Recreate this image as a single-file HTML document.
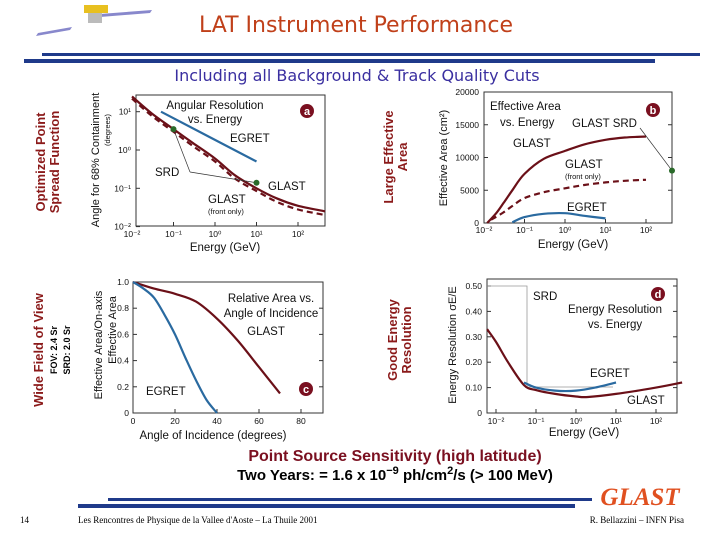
<!DOCTYPE html>
<html><head><meta charset="utf-8"><style>
body{margin:0;background:#fff}
svg{display:block;font-family:"Liberation Sans",sans-serif}
</style></head><body>
<svg id="s" width="720" height="540" viewBox="0 0 720 540" xmlns="http://www.w3.org/2000/svg">
<g>
<polygon points="36,36 70,30 72,27 38,33" fill="#8888cc"/><polygon points="100,14 152,10 150,13 100,17" fill="#8888cc"/>
<rect x="84" y="5" width="24" height="8" fill="#e8c020"/><rect x="88" y="13" width="14" height="10" fill="#bbb"/>
</g>
<text x="356" y="32" text-anchor="middle" font-size="22" fill="#c0401a" font-family="'DejaVu Sans',sans-serif">LAT Instrument Performance</text>
<rect x="42" y="53" width="658" height="3" fill="#1f3a8a"/>
<rect x="24" y="59" width="631" height="4" fill="#1f3a8a"/>
<text x="357" y="81" text-anchor="middle" font-size="16" fill="#3a2fa0" font-family="'DejaVu Sans',sans-serif">Including all Background &amp; Track Quality Cuts</text>

<g font-weight="bold" fill="#8b1a1a" font-size="13">
<text transform="translate(45,162) rotate(-90)" text-anchor="middle">Optimized Point</text>
<text transform="translate(59,162) rotate(-90)" text-anchor="middle">Spread Function</text>
<text transform="translate(393,157) rotate(-90)" text-anchor="middle">Large Effective</text>
<text transform="translate(407,157) rotate(-90)" text-anchor="middle">Area</text>
<text transform="translate(43,350) rotate(-90)" text-anchor="middle">Wide Field of View</text>
<text transform="translate(57,350) rotate(-90)" text-anchor="middle" font-size="9" fill="#000">FOV: 2.4 Sr</text>
<text transform="translate(70,350) rotate(-90)" text-anchor="middle" font-size="9" fill="#000">SRD: 2.0 Sr</text>
<text transform="translate(397,340) rotate(-90)" text-anchor="middle">Good Energy</text>
<text transform="translate(411,340) rotate(-90)" text-anchor="middle">Resolution</text>
</g>

<g id="charts"></g>

<text x="395" y="461" text-anchor="middle" font-size="16" font-weight="bold" fill="#7a1020">Point Source Sensitivity (high latitude)</text>
<text x="395" y="480" text-anchor="middle" font-size="15" font-weight="bold" fill="#000">Two Years: = 1.6 x 10<tspan dy="-6" font-size="11">−9</tspan><tspan dy="6"> ph/cm</tspan><tspan dy="-6" font-size="11">2</tspan><tspan dy="6">/s (&gt; 100 MeV)</tspan></text>
<rect x="108" y="498" width="484" height="3" fill="#1f3a8a"/>
<rect x="78" y="504" width="497" height="4" fill="#1f3a8a"/>
<text x="640" y="505" text-anchor="middle" font-size="25" font-weight="bold" font-style="italic" fill="#e05020" font-family="'Liberation Serif',serif">GLAST</text>
<g font-family="'Liberation Serif',serif" font-size="9" fill="#000">
<text x="20" y="523">14</text>
<text x="78" y="523">Les Rencontres de Physique de la Vallee d'Aoste – La Thuile 2001</text>
<text x="684" y="523" text-anchor="end">R. Bellazzini – INFN Pisa</text>
</g>
</svg>
<script>
// Panel a: angular resolution (log-log)
const aGlastE=[0.01,0.03,0.1,0.3,1,3,10,30,100,450];
const aGlastV=[25,9,3.5,1.5,0.6,0.22,0.1,0.055,0.035,0.025];
const aFrontE=[0.01,0.03,0.1,0.3,1,3,10,30,100,450];
const aFrontV=[22,7.8,3.0,1.25,0.5,0.18,0.085,0.045,0.028,0.02];
const aEgretE=[0.05,10];
const aEgretV=[10,0.5];
const aSrdE=[0.1,10];
const aSrdV=[3.5,0.14];
// Panel b: effective area
const bGlastE=[0.012,0.02,0.03,0.05,0.1,0.3,1,3,10,30,100];
const bGlastV=[0,1500,3000,5000,7500,9800,11000,12000,12700,13050,13200];
const bFrontE=[0.015,0.03,0.05,0.1,0.3,1,3,10,30,100];
const bFrontV=[500,1600,2600,3800,4700,5300,5800,6200,6450,6600];
const bEgretE=[0.05,0.1,0.3,1,3,10];
const bEgretV=[100,900,1400,1500,1100,700];
const bSrdE=[450];
const bSrdV=[8000];
// Panel c: relative area vs angle
const cGlastA=[0,10,20,30,40,50,60,70];
const cGlastV=[1,0.95,0.91,0.85,0.72,0.55,0.35,0.15];
const cEgretA=[0,5,10,15,20,25,30,35,40];
const cEgretV=[1,0.95,0.88,0.75,0.6,0.42,0.25,0.1,0];
// Panel d: energy resolution
const dGlastE=[0.006,0.01,0.02,0.05,0.1,0.3,1,2,10,100,450];
const dGlastV=[0.33,0.28,0.2,0.11,0.09,0.075,0.065,0.063,0.075,0.1,0.12];
const dEgretE=[0.05,0.1,0.3,1,3,10];
const dEgretV=[0.12,0.1,0.088,0.088,0.1,0.12];
const logTicks=["10\u207B\u00B2","10\u207B\u00B9","10\u2070","10\u00B9","10\u00B2"];
const bTicks=[0,5000,10000,15000,20000];
const cXTicks=[0,20,40,60,80];
const cYTicks=[0,0.2,0.4,0.6,0.8,1.0];
const dYTicks=[0,0.1,0.2,0.3,0.4,0.5];

const NS="http://www.w3.org/2000/svg";
const root=document.getElementById('charts');
function mk(tag,attrs,parent,txt){const e=document.createElementNS(NS,tag);for(const k in attrs)e.setAttribute(k,attrs[k]);if(txt!==undefined)e.textContent=txt;(parent||root).appendChild(e);return e;}
function logX(x0,dec){return e=>x0+dec*(Math.log10(e)+2);}
function poly(xs,ys,fx,fy,color,dash,w){
  const P=xs.map((v,i)=>[fx(v),fy(ys[i])]);
  let d='M'+P[0][0].toFixed(1)+','+P[0][1].toFixed(1);
  for(let i=0;i<P.length-1;i++){
    const p0=P[i-1]||P[i],p1=P[i],p2=P[i+1],p3=P[i+2]||P[i+1];
    const c1=[p1[0]+(p2[0]-p0[0])/6,p1[1]+(p2[1]-p0[1])/6];
    const c2=[p2[0]-(p3[0]-p1[0])/6,p2[1]-(p3[1]-p1[1])/6];
    d+='C'+c1.map(n=>n.toFixed(1)).join(',')+' '+c2.map(n=>n.toFixed(1)).join(',')+' '+p2.map(n=>n.toFixed(1)).join(',');
  }
  const p=mk('path',{d:d,fill:'none',stroke:color,'stroke-width':w||2.2});if(dash)p.setAttribute('stroke-dasharray',dash);return p;}
function box(x,y,w,h){const r=mk('rect',{x:x,y:y,width:w,height:h,fill:'none',stroke:'#333','stroke-width':1});}
function txt(x,y,s,size,anchor,extra){const t=mk('text',Object.assign({x:x,y:y,'font-size':size||11,'text-anchor':anchor||'start',fill:'#111'},extra||{}),root,s);return t;}
function badge(x,y,l){mk('circle',{cx:x,cy:y,r:7,fill:'#7a1020'});txt(x,y+4,l,11,'middle',{fill:'#fff','font-weight':'bold'});}
const RED='#6b1018',BLUE='#2a6aa0',GREEN='#2a6a2a';

// ---- Panel a ----
(function(){
const fx=logX(132,41.5), fy=v=>150-38.3*Math.log10(v);
box(136,95,189,131);
for(let i=0;i<5;i++){const x=132+41.5*i;if(x>=136)mk('line',{x1:x,y1:226,x2:x,y2:222,stroke:'#333'});const t=txt(x,237,logTicks[i],8.5,'middle');}
const ylab=["10\u207B\u00B2","10\u207B\u00B9","10\u2070","10\u00B9"];
for(let i=0;i<4;i++){const y=fy(Math.pow(10,i-2));mk('line',{x1:136,y1:y,x2:140,y2:y,stroke:'#333'});txt(131,y+3,ylab[i],8.5,'end');}
const g=poly(aGlastE,aGlastV,fx,fy,RED);
const f=poly(aFrontE,aFrontV,fx,fy,RED,'6,4');
const e=poly(aEgretE,aEgretV,fx,fy,BLUE);
aSrdE.forEach((v,i)=>{mk('line',{x1:190,y1:172,x2:fx(v),y2:fy(aSrdV[i]),stroke:'#333','stroke-width':0.7});const c=mk('circle',{cx:fx(v),cy:fy(aSrdV[i]),r:3,fill:GREEN});});
txt(215,109,'Angular Resolution',11.5,'middle');txt(215,123,'vs. Energy',11.5,'middle');
txt(230,142,'EGRET',11.5);txt(155,176,'SRD',11.5);txt(268,190,'GLAST',11.5);
txt(208,203,'GLAST',11.5);txt(208,214,'(front only)',7.5);
badge(307,111,'a');
const yl=txt(0,0,'Angle for 68% Containment',11,'middle');yl.setAttribute('transform','translate(99,160) rotate(-90)');
const y2=txt(0,0,'(degrees)',7.5,'middle');y2.setAttribute('transform','translate(110,130) rotate(-90)');
const xl=txt(225,251,'Energy  (GeV)',11.5,'middle');
})();

// ---- Panel b ----
(function(){
const fx=logX(484,40.5), fy=v=>223-131*v/20000;
box(484,92,188,131);
for(let i=0;i<5;i++){const x=484+40.5*i;mk('line',{x1:x,y1:223,x2:x,y2:219,stroke:'#333'});txt(x,233,logTicks[i],8.5,'middle');}
bTicks.forEach(v=>{const y=fy(v);mk('line',{x1:484,y1:y,x2:488,y2:y,stroke:'#333'});mk('line',{x1:668,y1:y,x2:672,y2:y,stroke:'#333'});txt(479,y+3,String(v),8.5,'end');});
const g=poly(bGlastE,bGlastV,fx,fy,RED);
const f=poly(bFrontE,bFrontV,fx,fy,RED,'6,4');
const e=poly(bEgretE,bEgretV,fx,fy,BLUE);
bSrdE.forEach((v,i)=>{const x=Math.min(fx(v),672);mk('line',{x1:640,y1:128,x2:x,y2:fy(bSrdV[i]),stroke:'#333','stroke-width':0.7});const c=mk('circle',{cx:x,cy:fy(bSrdV[i]),r:3,fill:GREEN});});
txt(490,110,'Effective Area',11.5);txt(500,126,'vs. Energy',11.5);txt(572,127,'GLAST SRD',11.5);
txt(513,147,'GLAST',11.5);txt(565,168,'GLAST',11.5);txt(565,179,'(front only)',7.5);txt(567,211,'EGRET',11.5);
badge(653,110,'b');
const yl=txt(0,0,'Effective Area  (cm\u00B2)',11,'middle');yl.setAttribute('transform','translate(447,158) rotate(-90)');
txt(573,248,'Energy  (GeV)',11.5,'middle');
})();

// ---- Panel c ----
(function(){
const fx=a=>133+2.1*a, fy=v=>413-131*v;
box(133,282,190,131);
cXTicks.forEach(v=>{const x=fx(v);mk('line',{x1:x,y1:413,x2:x,y2:409,stroke:'#333'});txt(x,424,String(v),8.5,'middle');});
cYTicks.forEach(v=>{const y=fy(v);mk('line',{x1:133,y1:y,x2:137,y2:y,stroke:'#333'});mk('line',{x1:319,y1:y,x2:323,y2:y,stroke:'#333'});txt(129,y+3,v===0?'0':v.toFixed(1),8.5,'end');});
const g=poly(cGlastA,cGlastV,fx,fy,RED);
const e=poly(cEgretA,cEgretV,fx,fy,BLUE);
txt(271,302,'Relative Area vs.',11.5,'middle');txt(271,317,'Angle of Incidence',11.5,'middle');txt(266,335,'GLAST',11.5,'middle');txt(146,395,'EGRET',11.5);
badge(306,389,'c');
const yl=txt(0,0,'Effective Area/On-axis',11,'middle');yl.setAttribute('transform','translate(102,345) rotate(-90)');
const y2=txt(0,0,'Effective Area',11,'middle');y2.setAttribute('transform','translate(116,330) rotate(-90)');
txt(213,439,'Angle of Incidence  (degrees)',11.5,'middle');
})();

// ---- Panel d ----
(function(){
const fx=logX(496,40), fy=v=>413-254*v;
box(487,279,190,134);
for(let i=0;i<5;i++){const x=496+40*i;mk('line',{x1:x,y1:413,x2:x,y2:409,stroke:'#333'});txt(x,424,logTicks[i],8.5,'middle');}
dYTicks.forEach(v=>{const y=fy(v);mk('line',{x1:487,y1:y,x2:491,y2:y,stroke:'#333'});mk('line',{x1:673,y1:y,x2:677,y2:y,stroke:'#333'});txt(482,y+3,v===0?'0':v.toFixed(2),8.5,'end');});
mk('polyline',{points:'487,286 527,286 527,387 613,387',fill:'none',stroke:'#999','stroke-width':0.8});
const g=poly(dGlastE,dGlastV,fx,fy,RED);
const e=poly(dEgretE,dEgretV,fx,fy,BLUE);
txt(533,300,'SRD',11.5);txt(615,313,'Energy Resolution',11.5,'middle');txt(615,328,'vs. Energy',11.5,'middle');
txt(590,377,'EGRET',11.5);txt(627,404,'GLAST',11.5);
badge(658,294,'d');
const yl=txt(0,0,'Energy Resolution \u03C3E/E',11,'middle');yl.setAttribute('transform','translate(456,345) rotate(-90)');
txt(584,436,'Energy  (GeV)',11.5,'middle');
})();
</script>
</body></html>
